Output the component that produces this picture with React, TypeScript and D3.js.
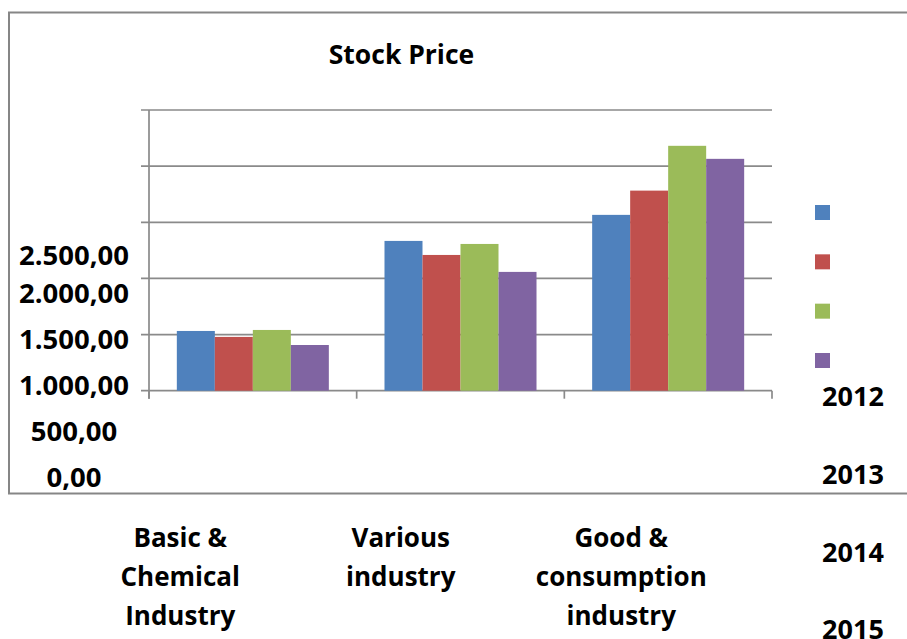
import React from 'react';
import * as d3 from 'd3';

const categories = ['Basic & Chemical Industry', 'Various industry', 'Good & consumption industry'];
const categoryLines = [['Basic &', 'Chemical', 'Industry'], ['Various', 'industry'], ['Good &', 'consumption', 'industry']];
const years = ['2012', '2013', '2014', '2015'];
const values2012 = [532, 1334, 1566];
const values2013 = [479, 1209, 1782];
const values2014 = [541, 1307, 2181];
const values2015 = [407, 1058, 2065];
const seriesValues = [values2012, values2013, values2014, values2015];
const colors = ['#4F81BD', '#C0504D', '#9BBB59', '#8064A2'];
const gridTicks = [0, 500, 1000, 1500, 2000, 2500];
const tickLabels = ['0,00', '500,00', '1.000,00', '1.500,00', '2.000,00', '2.500,00'];

const W = 907, H = 639;
const font = "'Open Sans', 'DejaVu Sans', sans-serif";

export default function App() {
  const plot = { left: 149, right: 772, top: 110, bottom: 390.7 };

  const y = d3.scaleLinear().domain([0, 2500]).range([plot.bottom, plot.top]);
  const x0 = d3.scaleBand<string>().domain(categories).range([plot.left, plot.right]).padding(0);
  const gap = x0.bandwidth() * 0.134;
  const x1 = d3.scaleBand<string>().domain(years).range([gap, x0.bandwidth() - gap]).padding(0);

  // the tick labels sit off the gridlines in the original picture
  const yLabel = d3.scaleLinear().domain([0, 2000, 2500]).range([477, 293, 255]);
  const xLabel = d3.scaleBand<string>().domain(categories).range([70, 731.5]);
  const swatchY = d3.scaleLinear().domain([0, 3]).range([205, 353]);
  const legendLabelY = d3.scaleLinear().domain([0, 3]).range([397, 630]);

  const tickEdges = [...categories.map(c => x0(c) as number), plot.right];

  return (
    <svg width={W} height={H} style={{ position: 'absolute', left: 0, top: 0, background: '#fff' }}
      fontFamily={font}>
      {/* outer frame */}
      <rect x={9} y={12.5} width={W + 10} height={481} fill="none" stroke="#868686" strokeWidth={2} />

      <text x={401.5} y={55} dy="0.35em" textAnchor="middle" fontSize={26.5} fontWeight="bold">Stock Price</text>

      {/* gridlines */}
      {gridTicks.map(t => (
        <line key={t} x1={plot.left - 8} x2={plot.right} y1={y(t)} y2={y(t)} stroke="#8a8a8a" strokeWidth={1.7} />
      ))}
      <line x1={plot.left} x2={plot.left} y1={plot.top} y2={plot.bottom + 8} stroke="#8a8a8a" strokeWidth={1.7} />
      {tickEdges.map((e, i) => (
        <line key={i} x1={e} x2={e} y1={plot.bottom} y2={plot.bottom + 8} stroke="#8a8a8a" strokeWidth={1.7} />
      ))}

      {/* bars */}
      {categories.map((c, ci) => (
        <g key={c} transform={`translate(${x0(c)},0)`}>
          {years.map((yr, si) => (
            <rect key={yr} x={x1(yr)} y={y(seriesValues[si][ci])} width={x1.bandwidth()}
              height={y(0) - y(seriesValues[si][ci])} fill={colors[si]} />
          ))}
        </g>
      ))}

      {/* y tick labels */}
      {gridTicks.map((t, i) => (
        <text key={t} x={74} y={yLabel(t)} dy="0.35em" textAnchor="middle" fontSize={27.5} fontWeight="bold">
          {tickLabels[i]}
        </text>
      ))}

      {/* category labels */}
      {categories.map((c, ci) => (
        <g key={c}>
          {categoryLines[ci].map((ln, li) => (
            <text key={li} x={(xLabel(c) as number) + xLabel.bandwidth() / 2} y={538 + li * 39} dy="0.35em"
              textAnchor="middle" fontSize={26} fontWeight="bold">{ln}</text>
          ))}
        </g>
      ))}

      {/* legend */}
      {years.map((yr, i) => (
        <g key={yr}>
          <rect x={815} y={swatchY(i)} width={15} height={15} fill={colors[i]} />
          <text x={853} y={legendLabelY(i)} dy="0.35em" textAnchor="middle" fontSize={27} fontWeight="bold">{yr}</text>
        </g>
      ))}
    </svg>
  );
}
